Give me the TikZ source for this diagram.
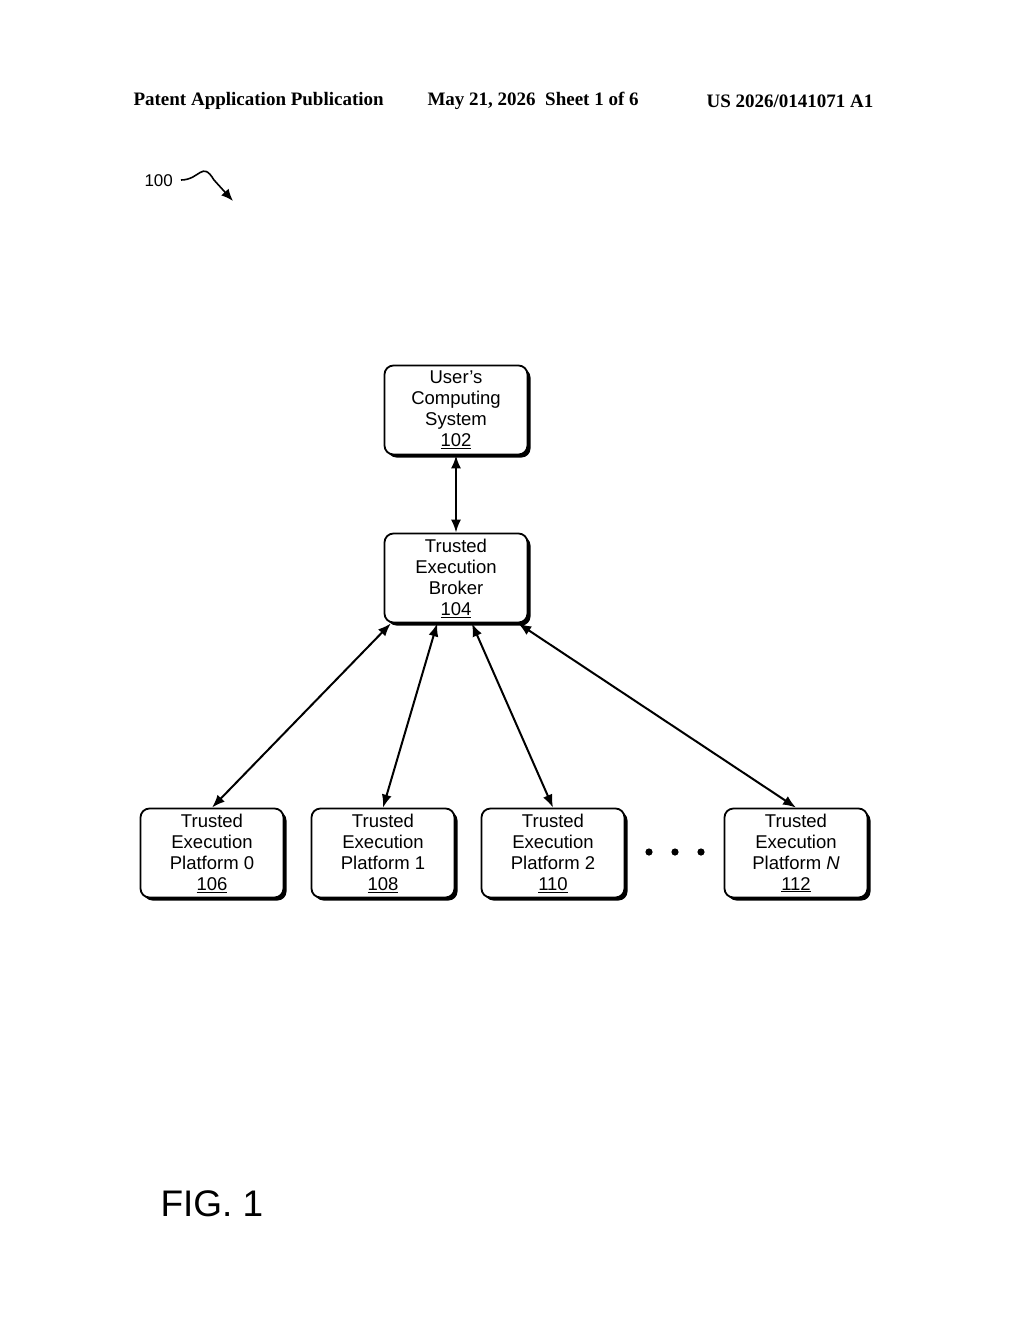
\documentclass[tikz,border=0pt]{standalone}
\usepackage{fontspec}
\setmainfont{Liberation Sans}
\newfontfamily\hdr{Liberation Serif}
\usetikzlibrary{calc,arrows.meta,shadows}
\begin{document}
\begin{tikzpicture}[x=1pt,y=-1pt,
  box/.style={draw,line width=1.8pt,rounded corners=9pt,fill=white,minimum width=143pt,minimum height=89pt,align=center,font=\fontsize{18.5}{21}\selectfont,inner sep=1pt,
    drop shadow={shadow xshift=3pt,shadow yshift=-3pt,opacity=1,fill=black}},
  hd/.style={anchor=west,font=\hdr\bfseries\fontsize{19}{22}\selectfont},
  arr/.style={{Latex[length=13pt,width=10pt]}-{Latex[length=13pt,width=10pt]},line width=2pt}]
\useasboundingbox (0,0) rectangle (1024,1320);
\node[hd] (h1) at (130,101) {Patent Application Publication};
\node[hd] (h2) at (424,101) {May 21, 2026\ \ Sheet 1 of 6};
\node[hd] (h3) at (703,101) {US 2026/0141071 A1};
\node[anchor=west,font=\fontsize{17}{18}\selectfont] (l100) at (141,181) {100};
\coordinate (c0) at (181,180);
\coordinate (c1) at (233,201);
\draw[line width=1.6pt,-{Latex[length=12pt,width=10pt]}] (c0) .. controls (200,180) and (202,160) .. (214,180) -- (c1);
\node[box] (u) at (456,410) {User's\\Computing\\System\\\underline{102}};
\node[box] (b) at (456,578) {Trusted\\Execution\\Broker\\\underline{104}};
\node[box] (p0) at (212,853) {Trusted\\Execution\\Platform 0\\\underline{106}};
\node[box] (p1) at (383,853) {Trusted\\Execution\\Platform 1\\\underline{108}};
\node[box] (p2) at (553,853) {Trusted\\Execution\\Platform 2\\\underline{110}};
\node[box] (pn) at (796,853) {Trusted\\Execution\\Platform \textit{N}\\\underline{112}};
\draw[arr] (u.south) -- (b.north);
\draw[arr] ($(b.south west)!0.05!(b.south east)$) -- (p0.north);
\draw[arr] ($(b.south west)!0.37!(b.south east)$) -- (p1.north);
\draw[arr] ($(b.south west)!0.61!(b.south east)$) -- (p2.north);
\draw[arr] ($(b.south west)!0.93!(b.south east)$) -- (pn.north);
\foreach \i/\xx in {1/649,2/675,3/701} \fill (\xx,852) circle (3.6pt) coordinate (d\i);
\node[anchor=west,font=\fontsize{37}{40}\selectfont] (fig) at (157,1204) {FIG. 1};
\end{tikzpicture}
\end{document}
